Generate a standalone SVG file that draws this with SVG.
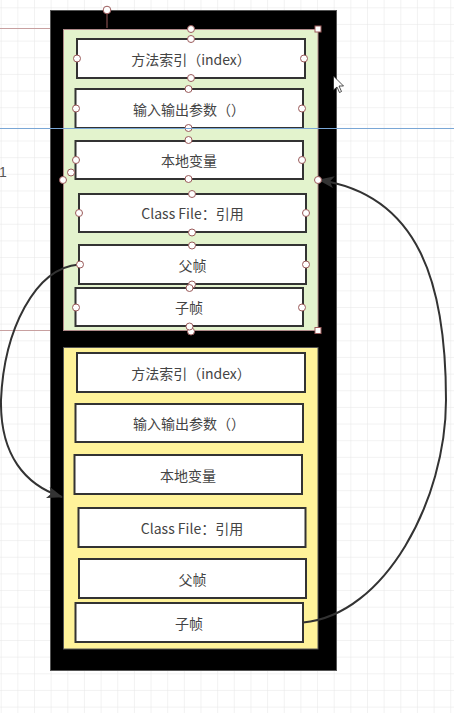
<svg xmlns="http://www.w3.org/2000/svg" width="454" height="713" viewBox="0 0 454 713">
<defs>
<pattern id="grid" x="0.7" y="7.3" width="16.65" height="16.65" patternUnits="userSpaceOnUse">
<path d="M 0 0 L 16.65 0 M 0 0 L 0 16.65" fill="none" stroke="#e6e6e6" stroke-width="1"/>
</pattern>
<marker id="arr" viewBox="0 0 16 12" refX="15" refY="6" markerWidth="16" markerHeight="12" markerUnits="userSpaceOnUse" orient="auto">
<path d="M0,0 L16,6 L0,12 L4,6 Z" fill="#333"/>
</marker>
<style>
.box{fill:#fff;stroke:#333;stroke-width:2}
.lbl{font-family:"Noto Sans CJK SC","Microsoft YaHei",sans-serif;font-size:14px;fill:#444;text-anchor:middle;dominant-baseline:central}
.h{fill:#fff;stroke:#9a5a5a;stroke-width:1}
.conn{fill:none;stroke:#333;stroke-width:2}
</style>
</defs>
<rect width="454" height="713" fill="#fff"/>
<rect width="454" height="713" fill="url(#grid)"/>
<g id="guides">
<line x1="0" y1="28.5" x2="63" y2="28.5" stroke="#c8a0a0" stroke-width="1"/>
<line x1="0" y1="330.5" x2="63" y2="330.5" stroke="#c8a0a0" stroke-width="1"/>
<text x="-1" y="177" font-family="Liberation Sans, sans-serif" font-size="14" fill="#555">1</text>
</g>
<g id="outer">
<rect x="50.5" y="10.5" width="286" height="660" fill="#000" stroke="#555" stroke-width="1"/>
</g>
<g id="frame1">
<rect x="63.5" y="29.5" width="254.5" height="301" fill="#e3f3cd" stroke="#b08a8a" stroke-width="1"/>
<g id="f1-index"><rect class="box" x="77" y="39" width="228" height="39"/><text class="lbl" x="191" y="58.5">方法索引（index）</text></g>
<g id="f1-io"><rect class="box" x="75.5" y="89" width="227.5" height="39"/><text class="lbl" x="189" y="108.5">输入输出参数（）</text></g>
<g id="f1-local"><rect class="box" x="75.5" y="141" width="227.5" height="38"/><text class="lbl" x="189" y="160">本地变量</text></g>
<g id="f1-class"><rect class="box" x="79" y="194" width="227" height="38"/><text class="lbl" x="192.5" y="213">Class File：引用</text></g>
<g id="f1-parent"><rect class="box" x="79" y="245" width="227" height="39"/><text class="lbl" x="192.5" y="264.5">父帧</text></g>
<g id="f1-child"><rect class="box" x="75.5" y="288" width="227.5" height="38"/><text class="lbl" x="189" y="307">子帧</text></g>
</g>
<g id="frame2">
<rect x="63.5" y="347.5" width="254.5" height="301.5" fill="#fff39a" stroke="#555" stroke-width="1"/>
<g id="f2-index"><rect class="box" x="77" y="353" width="228" height="39"/><text class="lbl" x="191" y="372.5">方法索引（index）</text></g>
<g id="f2-io"><rect class="box" x="75.5" y="404" width="227.5" height="38"/><text class="lbl" x="189" y="423">输入输出参数（）</text></g>
<g id="f2-local"><rect class="box" x="74.5" y="455" width="227.5" height="39"/><text class="lbl" x="188" y="474.5">本地变量</text></g>
<g id="f2-class"><rect class="box" x="78.5" y="508" width="227" height="39"/><text class="lbl" x="192" y="527.5">Class File：引用</text></g>
<g id="f2-parent"><rect class="box" x="79" y="559" width="227" height="39"/><text class="lbl" x="192.5" y="578.5">父帧</text></g>
<g id="f2-child"><rect class="box" x="75.5" y="603" width="227.5" height="39"/><text class="lbl" x="189" y="622.5">子帧</text></g>
</g>
<g id="connectors">
<path class="conn" d="M 79 264.5 C 35 268, 4 330, 1 400 C 0 455, 25 485, 62 497" marker-end="url(#arr)"/>
<path class="conn" d="M 303 622.5 C 385 615, 446 500, 446 400 C 446 285, 420 195, 319 180" marker-end="url(#arr)"/>
</g>
<g id="handles">
<line x1="107" y1="10" x2="107" y2="28" stroke="#9a5a5a" stroke-width="1"/>
<circle class="h" cx="107" cy="10" r="3.8"/>
<circle class="h" cx="191" cy="29" r="3.5"/>
<rect class="h" x="315" y="26" width="6" height="6"/>
<circle class="h" cx="63" cy="180" r="3.5"/>
<circle class="h" cx="71" cy="172.5" r="3.5"/>
<circle class="h" cx="318" cy="180" r="3.5"/>
<circle class="h" cx="191" cy="331.5" r="3.5"/>
<rect class="h" x="315" y="327.5" width="6" height="6"/>
<circle class="h" cx="191" cy="39" r="3.5"/><circle class="h" cx="191" cy="78" r="3.5"/><circle class="h" cx="77" cy="58.5" r="3.5"/><circle class="h" cx="304" cy="58.5" r="3.5"/>
<circle class="h" cx="188.5" cy="89" r="3.5"/><circle class="h" cx="188.5" cy="128" r="3.5"/><circle class="h" cx="76" cy="108.5" r="3.5"/><circle class="h" cx="302" cy="108.5" r="3.5"/>
<circle class="h" cx="188.5" cy="140" r="3.5"/><circle class="h" cx="188.5" cy="179" r="3.5"/><circle class="h" cx="76" cy="160" r="3.5"/><circle class="h" cx="302" cy="160" r="3.5"/>
<circle class="h" cx="192" cy="194" r="3.5"/><circle class="h" cx="192" cy="232.5" r="3.5"/><circle class="h" cx="79" cy="213" r="3.5"/><circle class="h" cx="306" cy="213" r="3.5"/>
<circle class="h" cx="192" cy="245.5" r="3.5"/><circle class="h" cx="192" cy="284.5" r="3.5"/><circle class="h" cx="80" cy="264.5" r="3.5"/><circle class="h" cx="306" cy="264.5" r="3.5"/>
<circle class="h" cx="189.5" cy="288" r="3.5"/><circle class="h" cx="189.5" cy="326.5" r="3.5"/><circle class="h" cx="76" cy="307.5" r="3.5"/><circle class="h" cx="302" cy="307.5" r="3.5"/>
</g>
<line x1="0" y1="128.5" x2="454" y2="128.5" stroke="#7aa7d6" stroke-width="1"/>
<g id="cursor">
<path d="M 333.5 76 L 333.5 90 L 337 87 L 339.5 92.5 L 341.5 91.5 L 339 86 L 343.5 86 Z" fill="#fff" stroke="#222" stroke-width="0.8"/>
</g>
</svg>
